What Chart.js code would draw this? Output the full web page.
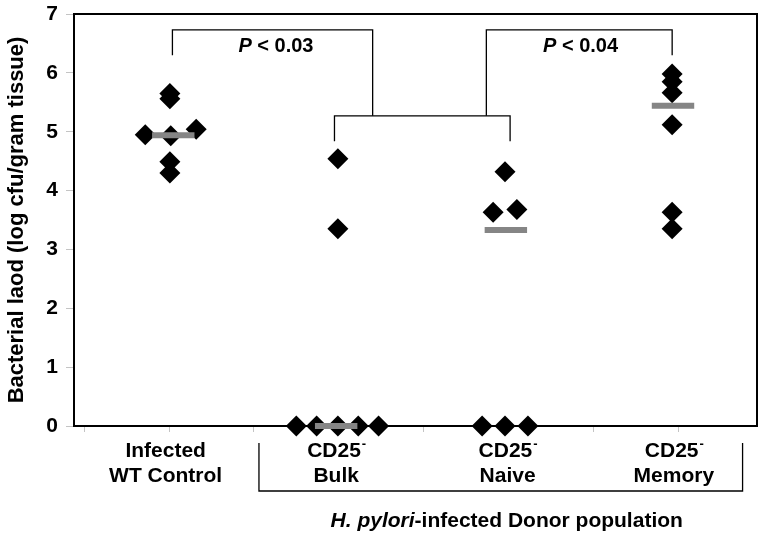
<!DOCTYPE html>
<html>
<head>
<meta charset="utf-8">
<script src="https://cdn.jsdelivr.net/npm/chart.js@4.4.0/dist/chart.umd.min.js"></script>
<style>
  html, body { margin: 0; padding: 0; background: #fff; }
  #wrap { width: 770px; height: 542px; position: relative; }
</style>
</head>
<body>
<div id="wrap"><canvas id="chart"></canvas></div>
<script>
// Bacterial load per mouse, log cfu / gram tissue
const wtX = [1.01, 1.01, 0.72, 1.02, 1.32, 1.01, 1.01];
const wtY = [5.65, 5.56, 4.95, 4.93, 5.04, 4.49, 4.30];
const bulkX = [2.99, 2.99, 2.50, 2.74, 2.99, 3.23, 3.47];
const bulkY = [4.54, 3.35, 0, 0, 0, 0, 0];
const naiveX = [4.96, 4.82, 5.10, 4.69, 4.96, 5.23];
const naiveY = [4.32, 3.63, 3.68, 0, 0, 0];
const memX = [6.93, 6.93, 6.93, 6.93, 6.93, 6.93];
const memY = [5.98, 5.85, 5.66, 5.12, 3.63, 3.35];

// group means (grey bars)
const meanX = [1.05, 2.97, 4.97, 6.94];
const meanY = [4.94, 0, 3.33, 5.44];

// category labels
const labelX = [0.96, 2.97, 4.99, 6.95];
const labelTop = ['Infected', 'CD25', 'CD25', 'CD25'];
const labelSup = ['', '-', '-', '-'];
const labelBottom = ['WT Control', 'Bulk', 'Naive', 'Memory'];

// significance brackets: x from/to, top, drop ends
const brackets = [
  { x1: 1.04, x2: 3.40, top: 6.73, y1: 6.30, y2: 5.27 },
  { x1: 2.95, x2: 5.02, top: 5.27, y1: 4.84, y2: 4.84 },
  { x1: 4.74, x2: 6.93, top: 6.73, y1: 5.27, y2: 6.30 }
];
const pLabels = [
  { x: 2.26, y: 6.44, text: ' < 0.03' },
  { x: 5.85, y: 6.44, text: ' < 0.04' }
];

const yTitle = 'Bacterial laod (log cfu/gram tissue)';
const FONT = '"Liberation Sans", Arial, sans-serif';
const HALF = 0.25;

const pts = (xs, ys) => xs.map((x, i) => ({ x, y: ys[i] }));

function dotSet(xs, ys){
  return {
    data: pts(xs, ys),
    pointStyle: 'rectRot',
    pointRadius: 10.5,
    backgroundColor: '#000',
    borderColor: '#000',
    borderWidth: 0,
    showLine: false,
    clip: false,
    order: 1
  };
}

const meanSets = meanX.map((cx, i) => ({
  type: 'line',
  data: [{ x: cx - HALF, y: meanY[i] }, { x: cx + HALF, y: meanY[i] }],
  borderColor: '#858585',
  borderWidth: 6,
  borderCapStyle: 'butt',
  pointRadius: 0,
  clip: false,
  order: 0
}));

const noPad = s => { s.paddingTop = 0; s.paddingBottom = 0; s.paddingLeft = 0; s.paddingRight = 0; };

// frame, brackets and labels drawn on the canvas
const extras = {
  id: 'extras',
  afterDraw(chart){
    const c = chart.ctx;
    const xs = chart.scales.x, ys = chart.scales.y;
    const a = chart.chartArea;
    const px = v => xs.getPixelForValue(v);
    const py = v => ys.getPixelForValue(v);

    c.save();
    c.strokeStyle = '#000';
    c.lineWidth = 2;
    c.beginPath();
    c.moveTo(a.left, a.top);
    c.lineTo(a.right, a.top);
    c.lineTo(a.right, a.bottom);
    c.stroke();

    c.lineWidth = 1.3;
    brackets.forEach(b => {
      c.beginPath();
      c.moveTo(px(b.x1), py(b.y1));
      c.lineTo(px(b.x1), py(b.top));
      c.lineTo(px(b.x2), py(b.top));
      c.lineTo(px(b.x2), py(b.y2));
      c.stroke();
    });

    c.fillStyle = '#000';
    c.textBaseline = 'middle';
    c.textAlign = 'left';
    pLabels.forEach(p => {
      c.font = 'italic bold 20px ' + FONT;
      const w1 = c.measureText('P').width;
      c.font = 'bold 20px ' + FONT;
      const w2 = c.measureText(p.text).width;
      let x0 = px(p.x) - (w1 + w2) / 2;
      c.font = 'italic bold 20px ' + FONT;
      c.fillText('P', x0, py(p.y));
      c.font = 'bold 20px ' + FONT;
      c.fillText(p.text, x0 + w1, py(p.y));
    });

    // category labels
    const l1 = a.bottom + 25, l2 = a.bottom + 50;
    labelX.forEach((v, i) => {
      c.font = 'bold 21px ' + FONT;
      const w = c.measureText(labelTop[i]).width;
      c.font = 'bold 13px ' + FONT;
      const ws = labelSup[i] ? c.measureText(labelSup[i]).width : 0;
      const x0 = px(v) - (w + ws) / 2;
      c.textAlign = 'left';
      c.font = 'bold 21px ' + FONT;
      c.fillText(labelTop[i], x0, l1);
      if (labelSup[i]){
        c.font = 'bold 13px ' + FONT;
        c.fillText(labelSup[i], x0 + w + 1, l1 - 7);
      }
      c.textAlign = 'center';
      c.font = 'bold 21px ' + FONT;
      c.fillText(labelBottom[i], px(v), l2);
    });

    // donor population bracket
    c.lineWidth = 1.3;
    c.beginPath();
    c.moveTo(px(2.06), a.bottom + 17);
    c.lineTo(px(2.06), a.bottom + 65);
    c.lineTo(px(7.76), a.bottom + 65);
    c.lineTo(px(7.76), a.bottom + 17);
    c.stroke();

    c.textAlign = 'left';
    c.font = 'italic bold 21px ' + FONT;
    const t1 = 'H. pylori';
    const wa = c.measureText(t1).width;
    c.font = 'bold 21px ' + FONT;
    const t2 = '-infected Donor population';
    const wb = c.measureText(t2).width;
    const sx = px(4.98) - (wa + wb) / 2;
    const sy = a.bottom + 95;
    c.font = 'italic bold 21px ' + FONT;
    c.fillText(t1, sx, sy);
    c.font = 'bold 21px ' + FONT;
    c.fillText(t2, sx + wa, sy);
    c.restore();
  }
};

new Chart(document.getElementById('chart'), {
  type: 'scatter',
  data: {
    datasets: [
      dotSet(wtX, wtY),
      dotSet(bulkX, bulkY),
      dotSet(naiveX, naiveY),
      dotSet(memX, memY),
      ...meanSets
    ]
  },
  options: {
    responsive: true,
    maintainAspectRatio: false,
    animation: false,
    events: [],
    layout: { padding: { top: 14, right: 13, left: 0, bottom: 0 } },
    plugins: { legend: { display: false }, tooltip: { enabled: false } },
    scales: {
      x: {
        type: 'linear',
        min: -0.12,
        max: 7.93,
        ticks: { stepSize: 1, includeBounds: false, display: false },
        grid: { drawOnChartArea: false, drawTicks: true, tickLength: 6, color: '#c4c4c4' },
        border: { color: '#000', width: 2 },
        afterFit: s => { s.height = 116; noPad(s); }
      },
      y: {
        min: 0,
        max: 7,
        ticks: { stepSize: 1, color: '#000', padding: 8, font: { family: FONT, size: 21, weight: 'bold' } },
        grid: { drawOnChartArea: false, tickLength: 8, color: '#c4c4c4' },
        border: { color: '#000', width: 2 },
        title: {
          display: true,
          text: yTitle,
          color: '#000',
          font: { family: FONT, size: 22, weight: 'bold' },
          padding: { top: 4, bottom: 0 }
        },
        afterFit: s => { s.width = 74; noPad(s); }
      }
    }
  },
  plugins: [extras]
});
</script>
</body>
</html>
